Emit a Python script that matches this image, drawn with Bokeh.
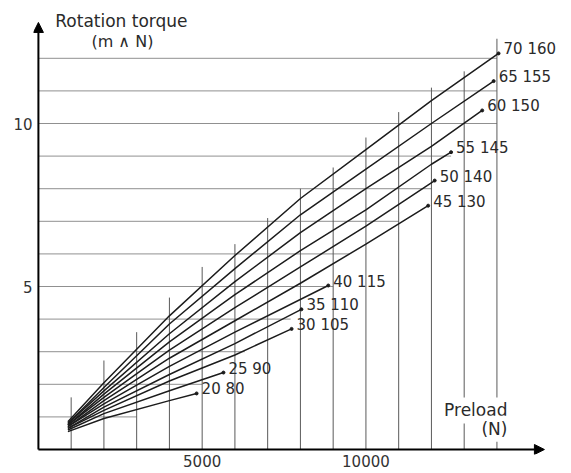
from bokeh.plotting import figure
from bokeh.models import Range1d, FixedTicker, Label, Arrow, NormalHead
from bokeh.core.properties import value
from bokeh.embed import file_html
from bokeh.resources import INLINE

# ---- data ----
# bearing pairs (labels) and their curves: preload (N) -> rotation torque
labels = ["70 160", "65 155", "60 150", "55 145", "50 140", "45 130",
          "40 115", "35 110", "30 105", "25 90", "20 80"]

x_70_160 = [900, 2000, 4000, 6000, 8000, 10000, 12000, 14050]
y_70_160 = [0.85, 2.05, 4.1, 5.95, 7.7, 9.2, 10.7, 12.15]
x_65_155 = [900, 2000, 4000, 6000, 8000, 10000, 12000, 13900]
y_65_155 = [0.8, 1.9, 3.85, 5.55, 7.2, 8.6, 10.0, 11.3]
x_60_150 = [900, 2000, 4000, 6000, 8000, 10000, 12000, 13550]
y_60_150 = [0.8, 1.8, 3.55, 5.15, 6.65, 8.0, 9.3, 10.4]
x_55_145 = [900, 2000, 4000, 6000, 8000, 10000, 12000, 12600]
y_55_145 = [0.75, 1.7, 3.3, 4.75, 6.1, 7.35, 8.75, 9.12]
x_50_140 = [900, 2000, 4000, 6000, 8000, 10000, 12100]
y_50_140 = [0.75, 1.6, 3.05, 4.35, 5.6, 6.85, 8.25]
x_45_130 = [900, 2000, 4000, 6000, 8000, 10000, 11900]
y_45_130 = [0.7, 1.5, 2.8, 3.95, 5.1, 6.3, 7.48]
x_40_115 = [900, 2000, 4000, 6000, 8850]
y_40_115 = [0.7, 1.4, 2.55, 3.6, 5.03]
x_35_110 = [900, 2000, 4000, 6000, 8030]
y_35_110 = [0.65, 1.3, 2.3, 3.25, 4.3]
x_30_105 = [900, 2000, 4000, 6000, 7730]
y_30_105 = [0.65, 1.2, 2.1, 2.9, 3.7]
x_25_90 = [900, 2000, 4000, 5650]
y_25_90 = [0.6, 1.1, 1.8, 2.36]
x_20_80 = [900, 2000, 4000, 4830]
y_20_80 = [0.55, 0.95, 1.5, 1.72]

# chart's own grid: horizontal lines (torque level -> right end in N)
h_levels = [1, 2, 3, 4, 5, 6, 7, 8, 9, 10, 11, 12]
h_ends = [3000, 5000, 6300, 7700, 9000, 9500, 11000, 12000, 12600, 14000, 14000, 14000]
# vertical lines (preload -> top in torque units)
v_positions = [1000, 2000, 3000, 4000, 5000, 6000, 7000, 8000, 9000, 10000,
               11000, 12000, 13000, 14000]
v_tops = [1.6, 2.73, 3.6, 4.66, 5.6, 6.3, 7.1, 8.0, 8.65, 9.57, 10.35, 11.1, 11.6, 12.6]

x_ticks = [5000, 10000]
y_ticks = [5, 10]

y_title = ["Rotation torque", "(m \u2227 N)"]
x_title = ["Preload", "(N)"]

xs_all = [x_70_160, x_65_155, x_60_150, x_55_145, x_50_140, x_45_130,
          x_40_115, x_35_110, x_30_105, x_25_90, x_20_80]
ys_all = [y_70_160, y_65_155, y_60_150, y_55_145, y_50_140, y_45_130,
          y_40_115, y_35_110, y_30_105, y_25_90, y_20_80]

FONT = "DejaVu Sans"
INK = "#1c1c1c"

p = figure(width=571, height=473, output_backend="svg", toolbar_location=None,
           x_range=Range1d(-150, 16277), y_range=Range1d(-0.153, 13.773),
           min_border_left=33, min_border_right=0, min_border_top=0,
           min_border_bottom=19)
p.outline_line_color = None
p.grid.visible = False
p.background_fill_color = "white"
p.border_fill_color = "white"

for ax in (p.xaxis, p.yaxis):
    ax.axis_line_color = None
    ax.major_tick_line_color = None
    ax.minor_tick_line_color = None
    ax.major_tick_out = 0
    ax.major_tick_in = 0
    ax.major_label_text_font = FONT
    ax.major_label_text_font_size = "15px"
    ax.major_label_text_color = "#333333"
p.xaxis.ticker = FixedTicker(ticks=x_ticks)
p.yaxis.ticker = FixedTicker(ticks=y_ticks)
p.xaxis.major_label_standoff = 0
p.yaxis.major_label_standoff = 1

# grid lines
p.segment(x0=[0] * len(h_levels), y0=h_levels, x1=h_ends, y1=h_levels,
          line_color="#909090", line_width=1)
p.segment(x0=v_positions, y0=[0] * len(v_positions), x1=v_positions, y1=v_tops,
          line_color="#5a5a5a", line_width=1)

# curves
for xs, ys in zip(xs_all, ys_all):
    p.line(xs, ys, line_color=INK, line_width=1.5)

end_x = [xs[-1] for xs in xs_all]
end_y = [ys[-1] for ys in ys_all]
p.scatter(end_x, end_y, size=3, color=INK)
p.text(end_x, end_y, text=labels, x_offset=5, y_offset=-4,
       text_font=value(FONT), text_font_size="15px", text_color="#2a2a2a",
       text_baseline="middle", text_align="left")

# axes with arrows
p.add_layout(Arrow(end=NormalHead(size=10, fill_color="black", line_color="black"),
                   x_start=0, y_start=0, x_end=15450, y_end=0,
                   line_width=2, line_color="black"))
p.add_layout(Arrow(end=NormalHead(size=10, fill_color="black", line_color="black"),
                   x_start=0, y_start=0, x_end=0, y_end=13.1,
                   line_width=2, line_color="black"))

# axis titles
p.add_layout(Label(x=2534, y=13.13, text=y_title[0], text_align="center",
                   text_baseline="middle", text_font=FONT, text_font_size="17px",
                   text_color="#2a2a2a"))
p.add_layout(Label(x=2565, y=12.52, text=y_title[1], text_align="center",
                   text_baseline="middle", text_font=FONT, text_font_size="16px",
                   text_color="#2a2a2a"))
p.add_layout(Label(x=14412, y=1.2, text=x_title[0], text_align="right",
                   text_baseline="middle", text_font=FONT, text_font_size="17px",
                   text_color="#2a2a2a", background_fill_color="white", padding=3))
p.add_layout(Label(x=14412, y=0.64, text=x_title[1], text_align="right",
                   text_baseline="middle", text_font=FONT, text_font_size="17px",
                   text_color="#2a2a2a", background_fill_color="white", padding=3))

open("out.html", "w").write(file_html(p, INLINE))
